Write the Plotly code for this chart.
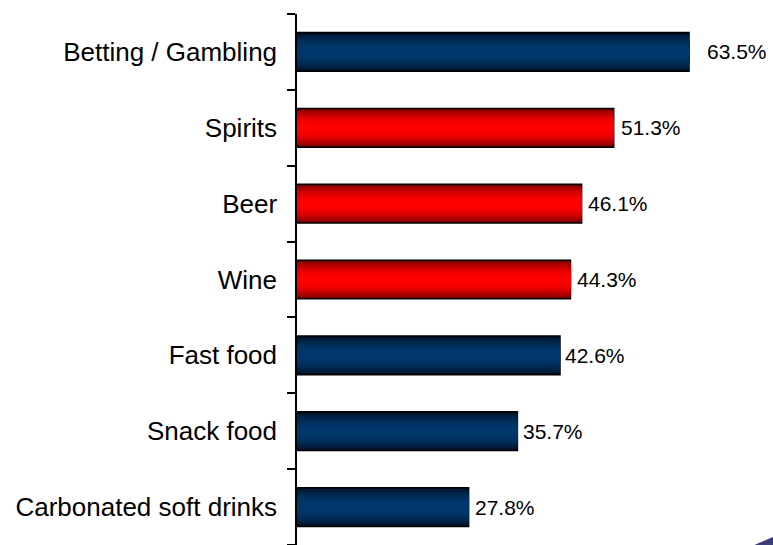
import plotly.graph_objects as go

# Share of respondents by product category
categories = [
    "Betting / Gambling",
    "Spirits",
    "Beer",
    "Wine",
    "Fast food",
    "Snack food",
    "Carbonated soft drinks",
]
values = [63.5, 51.3, 46.1, 44.3, 42.6, 35.7, 27.8]
groups = ["other", "alcohol", "alcohol", "alcohol", "other", "other", "other"]

# Centre / edge colours for the shaded bars
palette = {
    "other": ((0, 56, 108), (2, 14, 34)),
    "alcohol": ((255, 0, 0), (110, 0, 0)),
}

BAR_W = 0.51
N_LAYERS = 14
LABEL_SHIFT = [16, 5, 4, 4, 3, 4, 4]  # px gap between bar end and value label


def mix(c_mid, c_edge, d):
    t = d ** 2.2
    return "rgb({},{},{})".format(*[round(a + (b - a) * t) for a, b in zip(c_mid, c_edge)])


fig = go.Figure()

# Stack narrowing bars on top of each other to get a vertical shading
for k in range(N_LAYERS):
    frac = 1 - k / N_LAYERS
    d = 1 - (k + 0.5) / N_LAYERS if k else 1.0
    colors = [mix(*palette[g], d) for g in groups]
    outer = k == 0
    fig.add_trace(go.Bar(
        y=categories,
        x=values,
        orientation="h",
        width=BAR_W * frac,
        marker=dict(
            color=colors,
            line=dict(color="black", width=1.5 if outer else 0),
        ),
        hoverinfo="skip",
        showlegend=False,
    ))

# Value labels at the end of each bar
for cat, v, dx in zip(categories, values, LABEL_SHIFT):
    fig.add_annotation(
        x=v, y=cat,
        text=f"{v:.1f}%",
        showarrow=False,
        xanchor="left",
        yanchor="middle",
        xshift=dx,
        font=dict(family="Liberation Sans, Arial", size=21, color="black"),
    )

fig.update_layout(
    width=773,
    height=545,
    margin=dict(l=297, r=0, t=14, b=0),
    paper_bgcolor="white",
    plot_bgcolor="white",
    barmode="overlay",
    font=dict(family="Liberation Sans, Arial", color="black"),
    xaxis=dict(
        range=[0, 77.1],
        visible=False,
        showgrid=False,
        zeroline=False,
    ),
    yaxis=dict(
        categoryorder="array",
        categoryarray=categories[::-1],
        showline=True,
        linecolor="black",
        linewidth=1.5,
        ticks="outside",
        tickson="boundaries",
        ticklen=8,
        tickwidth=1.5,
        tickcolor="black",
        ticklabelstandoff=13,
        tickfont=dict(family="Liberation Sans, Arial", size=26, color="black"),
        showgrid=False,
        zeroline=False,
    ),
)

# Corner logo edge peeking in at the bottom right
fig.add_shape(
    type="path",
    xref="paper", yref="paper",
    path="M 0.937,-0.01 Q 0.975,0.006 1.0,0.0151 L 1.0,-0.01 Z",
    fillcolor="rgb(62,62,122)",
    line=dict(width=0),
    layer="above",
)

fig.write_html("out.html")
